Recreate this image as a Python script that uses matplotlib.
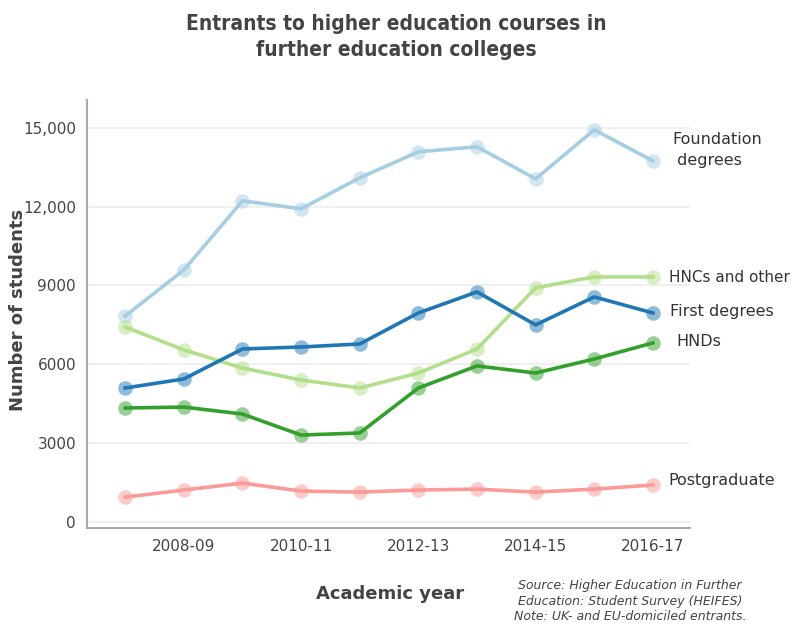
import numpy as np
import matplotlib.pyplot as plt

years = ['2007-08', '2008-09', '2009-10', '2010-11', '2011-12',
         '2012-13', '2013-14', '2014-15', '2015-16', '2016-17']

foundation = [7840, 9590, 12220, 11915, 13095, 14085, 14275, 13055, 14920, 13740]
hncs_other = [7420, 6550, 5860, 5405, 5100, 5670, 6585, 8910, 9325, 9325]
first_degrees = [5100, 5445, 6585, 6660, 6775, 7955, 8755, 7500, 8565, 7955]
hnds = [4340, 4375, 4110, 3310, 3390, 5100, 5940, 5670, 6205, 6815]
postgrad = [950, 1220, 1485, 1180, 1140, 1220, 1255, 1140, 1255, 1410]

series = [
    ('Foundation degrees', foundation, '#a6cee3'),
    ('HNCs and other', hncs_other, '#b2df8a'),
    ('First degrees', first_degrees, '#1f78b4'),
    ('HNDs', hnds, '#33a02c'),
    ('Postgraduate', postgrad, '#fb9a99'),
]

yticks = [0, 3000, 6000, 9000, 12000, 15000]
ytick_labels = ['0', '3000', '6000', '9000', '12,000', '15,000']

fig = plt.figure(figsize=(7.92, 6.28), dpi=100)
ax = fig.add_axes([0.110, 0.159, 0.761, 0.682])

x = np.arange(len(years))
for name, vals, col in series:
    ax.plot(x, vals, color=col, linewidth=2.6, zorder=3)
    ax.plot(x, vals, 'o', color=col, markersize=10.5, alpha=0.5,
            markeredgewidth=0, zorder=4)

ax.set_xlim(-0.65, 9.63)
ax.set_ylim(-230, 16060)
ax.set_yticks(yticks)
ax.set_yticklabels(ytick_labels)
ax.set_xticks(x[1::2])
ax.set_xticklabels(years[1::2])
ax.tick_params(length=0, labelsize=11, colors='#444444', pad=8)
ax.grid(axis='y', color='#eeeeee', linewidth=1.2, zorder=0)
for s in ['top', 'right']:
    ax.spines[s].set_visible(False)
for s in ['left', 'bottom']:
    ax.spines[s].set_color('#aaaaaa')
    ax.spines[s].set_linewidth(1.5)

# labels at the right end of the lines
fig.text(672 / 792, 1 - 150 / 628, 'Foundation\n degrees', fontsize=11.5,
         color='#333333', va='center', ha='left', linespacing=1.5)
fig.text(669 / 792, 1 - 277 / 628, 'HNCs and other', fontsize=11,
         color='#333333', va='center', ha='left')
fig.text(670 / 792, 1 - 311 / 628, 'First degrees', fontsize=11.5,
         color='#333333', va='center', ha='left')
fig.text(676 / 792, 1 - 341 / 628, 'HNDs', fontsize=11.5,
         color='#333333', va='center', ha='left')
fig.text(668 / 792, 1 - 481 / 628, 'Postgraduate', fontsize=11.5,
         color='#333333', va='center', ha='left')

fig.text(0.5, 1 - 37 / 628,
         'Entrants to higher education courses in\nfurther education colleges',
         ha='center', va='center', fontsize=15, fontweight='bold',
         color='#444444', linespacing=1.4, fontstretch='condensed')
fig.text(18 / 792, 1 - 310 / 628, 'Number of students', rotation=90,
         ha='center', va='center', fontsize=13, fontweight='bold', color='#444444')
fig.text(390 / 792, 1 - 594 / 628, 'Academic year', ha='center', va='center',
         fontsize=13, fontweight='bold', color='#444444')
fig.text(630 / 792, 1 - 601 / 628,
         'Source: Higher Education in Further\nEducation: Student Survey (HEIFES)\nNote: UK- and EU-domiciled entrants.',
         ha='center', va='center', fontsize=9, style='italic', color='#444444',
         linespacing=1.3)

fig.savefig('out.png', dpi=100, facecolor='white')
